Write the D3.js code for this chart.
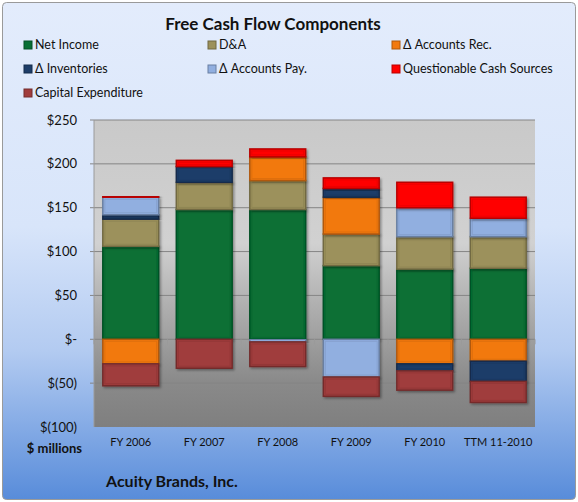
<!DOCTYPE html>
<html>
<head>
<meta charset="utf-8">
<script src="https://cdn.jsdelivr.net/npm/d3@7"></script>
<style>
  body { margin: 0; background: #fff; }
  svg { display: block; font-family: Lato, "Open Sans", sans-serif; }
</style>
</head>
<body>
<svg id="chart" width="578" height="502"></svg>
<script>
const categories = ["FY 2006", "FY 2007", "FY 2008", "FY 2009", "FY 2010", "TTM 11-2010"];
const seriesNames = ["Net Income", "D&A", "Δ Accounts Rec.", "Δ Inventories", "Δ Accounts Pay.", "Questionable Cash Sources", "Capital Expenditure"];
const netIncome = [106, 148, 148, 84, 80, 81];
const depAmort = [31, 31, 33, 36, 37, 36];
const accountsRec = [-28, 0, 27, 42, -28, -25];
const inventories = [5, 18, 0, 10, -8, -23];
const accountsPay = [20, 0, -3, -43, 33, 21];
const questionable = [1, 7, 9, 12, 29, 24];
const capex = [-25, -33, -28, -22, -22, -24];
const yTicks = [-100, -50, 0, 50, 100, 150, 200, 250];

const colors = ["#076f34", "#9c915b", "#f2790f", "#1d3d69", "#91afe0", "#ff0000", "#a03c3c"];
const seriesValues = [netIncome, depAmort, accountsRec, inventories, accountsPay, questionable, capex];

// rows for d3.stack
const rows = categories.map((c, i) => {
    let r = { cat: c };
    seriesNames.forEach((s, j) => r[s] = seriesValues[j][i]);
    return r;
});

const svg = d3.select("#chart");
const defs = svg.append("defs");

// chart background gradient (light blue -> blue)
let bg = defs.append("linearGradient").attr("id", "bg").attr("x1", 0).attr("y1", 0).attr("x2", 0).attr("y2", 1);
[[0, "#e3ecfc"], [0.45, "#d8e5fa"], [0.7, "#b3cbf1"], [1, "#588cda"]].forEach(s =>
    bg.append("stop").attr("offset", s[0]).attr("stop-color", s[1]));

// plot area gradient (gray)
let pg = defs.append("linearGradient").attr("id", "plotbg").attr("x1", 0).attr("y1", 0).attr("x2", 0).attr("y2", 1);
[[0, "#c9c9c9"], [0.4, "#d1d1d1"], [0.6, "#b0b0b0"], [0.85, "#8a8a8a"], [1, "#7f7f7f"]].forEach(s =>
    pg.append("stop").attr("offset", s[0]).attr("stop-color", s[1]));

let shadow = defs.append("filter").attr("id", "shadow").attr("x", "-10%").attr("y", "-10%").attr("width", "130%").attr("height", "130%");
shadow.append("feDropShadow").attr("dx", 1.5).attr("dy", 1.5).attr("stdDeviation", 1).attr("flood-color", "#000").attr("flood-opacity", 0.35);

svg.append("rect")
    .attr("x", 2.5).attr("y", 2.5).attr("width", 573).attr("height", 497)
    .attr("rx", 4).attr("fill", "url(#bg)").attr("stroke", "#9a9a9a");

const plot = { left: 94, right: 535, top: 120, bottom: 427 };

const x = d3.scaleBand().domain(categories).range([plot.left, plot.right]).paddingInner(0.24).paddingOuter(0.12);
const y = d3.scaleLinear().domain([-100, 250]).range([plot.bottom, plot.top]);

svg.append("rect")
    .attr("x", plot.left).attr("y", plot.top)
    .attr("width", plot.right - plot.left).attr("height", plot.bottom - plot.top)
    .attr("fill", "url(#plotbg)");

// gridlines
svg.append("g").selectAll("line")
    .data(yTicks.filter(t => t > -100))
    .enter().append("line")
    .attr("x1", plot.left - 4).attr("x2", plot.right)
    .attr("y1", d => y(d)).attr("y2", d => y(d))
    .attr("stroke", "#858585").attr("stroke-width", 1);

svg.append("line")
    .attr("x1", plot.left).attr("x2", plot.left)
    .attr("y1", plot.top).attr("y2", plot.bottom)
    .attr("stroke", "#9a9a9a");

// y labels
const fmt = v => v === 0 ? "$-" : (v < 0 ? "$(" + Math.abs(v) + ")" : "$" + v);
svg.append("g").selectAll("text")
    .data(yTicks)
    .enter().append("text")
    .attr("x", 77).attr("y", d => y(d)).attr("dy", "0.35em")
    .attr("text-anchor", "end").attr("font-size", 13).attr("fill", "#111")
    .text(fmt);

// x ticks on zero line
svg.append("g").selectAll("line")
    .data(d3.range(categories.length + 1))
    .enter().append("line")
    .attr("x1", i => plot.left + i * (plot.right - plot.left) / categories.length)
    .attr("x2", i => plot.left + i * (plot.right - plot.left) / categories.length)
    .attr("y1", y(0)).attr("y2", y(0) + 5)
    .attr("stroke", "#9a9a9a");

// stacked bars
const stack = d3.stack().keys(seriesNames).offset(d3.stackOffsetDiverging);
const layers = stack(rows);

const g = svg.append("g");
layers.forEach((layer, j) => {
    const base = d3.color(colors[j]);
    const segs = layer.filter(d => d[1] - d[0] !== 0);
    const lg = g.append("g");
    lg.selectAll("rect.seg")
        .data(segs)
        .enter().append("rect")
        .attr("class", "seg")
        .attr("x", d => x(d.data.cat))
        .attr("y", d => y(d[1]))
        .attr("width", x.bandwidth())
        .attr("height", d => Math.abs(y(d[0]) - y(d[1])))
        .attr("fill", colors[j])
        .attr("stroke", base.darker(0.9))
        .attr("stroke-width", 1.5)
        .attr("filter", "url(#shadow)");
    // inner bevel line
    lg.selectAll("rect.bevel")
        .data(segs.filter(d => Math.abs(y(d[0]) - y(d[1])) > 6))
        .enter().append("rect")
        .attr("class", "bevel")
        .attr("x", d => x(d.data.cat) + 2)
        .attr("y", d => y(d[1]) + 2)
        .attr("width", x.bandwidth() - 4)
        .attr("height", d => Math.abs(y(d[0]) - y(d[1])) - 4)
        .attr("fill", "none")
        .attr("stroke", base.darker(0.4))
        .attr("stroke-opacity", 0.6)
        .attr("stroke-width", 1);
});

// x labels
svg.append("g").selectAll("text")
    .data(categories)
    .enter().append("text")
    .attr("x", d => x(d) + x.bandwidth() / 2).attr("y", 446)
    .attr("text-anchor", "middle").attr("font-size", 11).attr("fill", "#111")
    .text(d => d);

svg.append("text")
    .attr("x", 82).attr("y", 453).attr("text-anchor", "end")
    .attr("font-size", 13).attr("font-weight", "bold").attr("fill", "#111")
    .text("$ millions");

svg.append("text")
    .attr("x", 106).attr("y", 487)
    .attr("font-size", 16).attr("font-weight", "bold").attr("fill", "#111")
    .text("Acuity Brands, Inc.");

svg.append("text")
    .attr("x", 273).attr("y", 30).attr("text-anchor", "middle")
    .attr("font-size", 17).attr("font-weight", "bold").attr("fill", "#111")
    .text("Free Cash Flow Components");

// legend
const legendX = [24, 208, 392];
const legendY = [49, 73, 97];
const legend = svg.append("g").selectAll("g")
    .data(seriesNames)
    .enter().append("g")
    .attr("transform", (d, i) => `translate(${legendX[i % 3]},${legendY[Math.floor(i / 3)]})`);
legend.append("rect")
    .attr("x", 0).attr("y", -8).attr("width", 8).attr("height", 8)
    .attr("fill", (d, i) => colors[i])
    .attr("stroke", (d, i) => d3.color(colors[i]).darker(0.9));
legend.append("text")
    .attr("x", 11).attr("y", 0)
    .attr("font-size", 12.5).attr("fill", "#111")
    .text(d => d);
</script>
</body>
</html>
